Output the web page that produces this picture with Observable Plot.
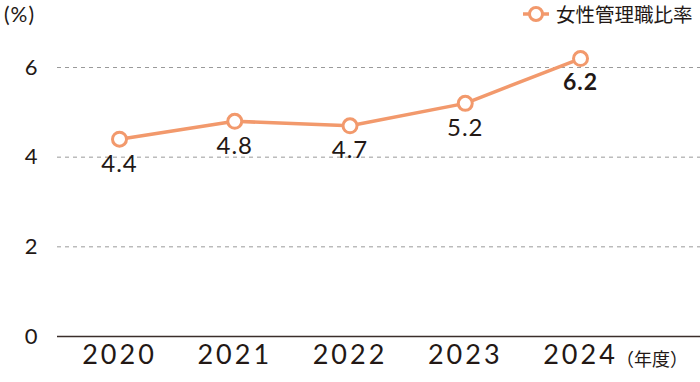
<!DOCTYPE html>
<html><head><meta charset="utf-8">
<script src="https://cdn.jsdelivr.net/npm/d3@7"></script>
<script src="https://cdn.jsdelivr.net/npm/@observablehq/plot@0.6"></script>
<style>
body{margin:0;background:#fff;font-family:"Noto Sans CJK JP","Noto Sans",sans-serif;color:#231815}
#wrap{position:relative;width:700px;height:382px}
.ov{position:absolute;white-space:nowrap;color:#231815}
g[aria-label="x-axis tick label"] text{letter-spacing:3px}
g[aria-label="text"] text{letter-spacing:1px}
</style></head><body>
<div id="wrap"></div>
<script>
const years = [2020, 2021, 2022, 2023, 2024];
const ratio = [4.4, 4.8, 4.7, 5.2, 6.2];
const yTicks = [0, 2, 4, 6];
const seriesName = "女性管理職比率";
const yUnit = "(%)";
const xUnit = "（年度）";
const color = "#f2996c";

const data = years.map((y, i) => ({year: y, value: ratio[i], last: i === years.length - 1}));
const numFont = "Lato,'Noto Sans',sans-serif";

const chart = Plot.plot({
  width: 700, height: 382,
  marginLeft: 57, marginRight: 0, marginTop: 67, marginBottom: 46,
  style: {fontFamily: "'Noto Sans CJK JP','Noto Sans',sans-serif", color: "#231815", background: "transparent"},
  x: {type: "linear", domain: [2019.462, 2025.041], axis: null},
  y: {domain: [0, 6], axis: null},
  marks: [
    Plot.ruleY(yTicks.filter(d => d > 0), {stroke: "#9a9a9a", strokeDasharray: "4,4", strokeWidth: 1}),
    Plot.ruleY([0], {stroke: "#3a2e2b", strokeWidth: 1.5}),
    Plot.axisY(yTicks, {tickSize: 0, tickPadding: 20, fontSize: 22, fontFamily: numFont, label: null, fill: "#231815"}),
    Plot.axisX(years, {tickSize: 0, tickPadding: 8, fontSize: 27, fontFamily: numFont, label: null, tickFormat: d => String(d), fill: "#231815"}),
    Plot.line(data, {x: "year", y: "value", stroke: color, strokeWidth: 3.5}),
    Plot.dot(data, {x: "year", y: "value", r: 7, fill: "white", stroke: color, strokeWidth: 3}),
    Plot.text(data.filter(d => !d.last), {x: "year", y: "value", text: d => d.value.toFixed(1), dy: 25, fontSize: 24, fontFamily: numFont, fill: "#231815"}),
    Plot.text(data.filter(d => d.last), {x: "year", y: "value", text: d => d.value.toFixed(1), dy: 24, fontSize: 23, fontWeight: "bold", fontFamily: numFont, fill: "#231815"})
  ]
});
const wrap = document.getElementById("wrap");
wrap.appendChild(chart);

const unit = document.createElement("div");
unit.className = "ov";
unit.style.cssText = "left:4px;top:1px;font-size:21px;font-family:Lato,'Noto Sans',sans-serif;letter-spacing:1px;";
unit.textContent = yUnit;
wrap.appendChild(unit);

const xu = document.createElement("div");
xu.className = "ov";
xu.style.cssText = "left:616px;top:345px;font-size:18px;";
xu.textContent = xUnit;
wrap.appendChild(xu);

const leg = document.createElement("div");
leg.className = "ov";
leg.style.cssText = "left:522px;top:-1px;font-size:19.5px;display:flex;align-items:center;gap:6px;";
leg.innerHTML = `<svg width="28" height="26"><line x1="1" y1="13" x2="27" y2="13" stroke="${color}" stroke-width="3.5"/><circle cx="14" cy="13" r="6.5" fill="white" stroke="${color}" stroke-width="3"/></svg><span>${seriesName}</span>`;
wrap.appendChild(leg);
</script>
</body></html>
